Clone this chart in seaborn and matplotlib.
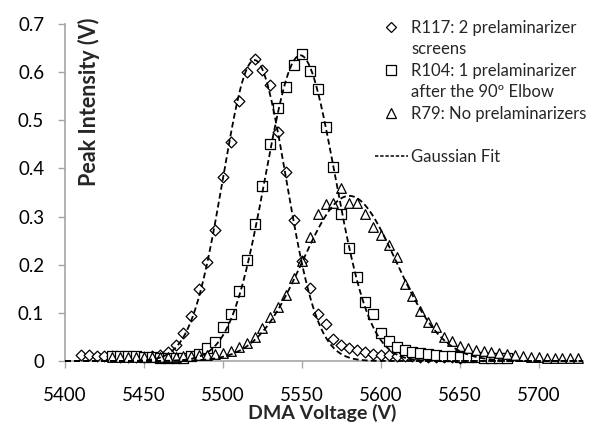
import numpy as np
import pandas as pd
import seaborn as sns
import matplotlib
matplotlib.use("Agg")
import matplotlib.pyplot as plt
from matplotlib.lines import Line2D

# ---------------- data ----------------
r117_v = list(range(5410, 5651, 5))
r117_i = [0.012, 0.012, 0.011, 0.010, 0.010, 0.009, 0.009, 0.009, 0.009, 0.010,
          0.013, 0.019, 0.034, 0.059, 0.094, 0.149, 0.206, 0.273, 0.383, 0.455,
          0.541, 0.601, 0.627, 0.605, 0.573, 0.476, 0.393, 0.293, 0.208, 0.152,
          0.098, 0.077, 0.046, 0.033, 0.027, 0.022, 0.018, 0.015, 0.013, 0.012,
          0.011, 0.010, 0.010, 0.009, 0.009, 0.008, 0.008, 0.008, 0.007]

r104_v = list(range(5430, 5681, 5))
r104_i = [0.011, 0.011, 0.010, 0.010, 0.009, 0.008, 0.007, 0.006, 0.006, 0.007,
          0.010, 0.015, 0.027, 0.040, 0.070, 0.098, 0.146, 0.210, 0.284, 0.364,
          0.451, 0.525, 0.570, 0.615, 0.637, 0.602, 0.565, 0.487, 0.402, 0.305,
          0.234, 0.175, 0.123, 0.097, 0.058, 0.042, 0.029, 0.022, 0.018, 0.016,
          0.014, 0.012, 0.011, 0.010, 0.009, 0.008, 0.008, 0.007, 0.007, 0.006,
          0.006]

r79_v = list(range(5430, 5726, 5))
r79_i = [0.009, 0.009, 0.009, 0.009, 0.009, 0.009, 0.009, 0.009, 0.009, 0.010,
         0.011, 0.012, 0.013, 0.015, 0.017, 0.020, 0.030, 0.037, 0.049, 0.069,
         0.092, 0.113, 0.137, 0.173, 0.208, 0.257, 0.306, 0.327, 0.328, 0.359,
         0.328, 0.328, 0.305, 0.279, 0.262, 0.241, 0.217, 0.160, 0.134, 0.104,
         0.080, 0.070, 0.050, 0.042, 0.032, 0.026, 0.023, 0.020, 0.018, 0.016,
         0.014, 0.012, 0.010, 0.009, 0.008, 0.007, 0.007, 0.006, 0.006, 0.006]

# Gaussian fit parameters (amplitude, centre, sigma)
fit_r117 = (0.625, 5520.0, 20.0)
fit_r104 = (0.635, 5549.0, 22.0)
fit_r79 = (0.343, 5580.0, 29.5)
fit_range = (5400, 5728)

labels = ["R117: 2 prelaminarizer", "screens",
          "R104: 1 prelaminarizer", "after the 90º Elbow",
          "R79: No prelaminarizers", "", "Gaussian Fit"]

x_ticks = [5400, 5450, 5500, 5550, 5600, 5650, 5700]
y_ticks = [0, 0.1, 0.2, 0.3, 0.4, 0.5, 0.6, 0.7]

# ---------------- plotting ----------------
sns.set_style("white")
plt.rcParams['font.family'] = ['Lato', 'DejaVu Sans']

fig = plt.figure(figsize=(5.94, 4.23), dpi=100)
ax = fig.add_axes([65/594, 1-361/423, (583-65)/594, (361-24)/423])

gray = "#a6a6a6"
series = [(r117_v, r117_i, "D", 30), (r104_v, r104_i, "s", 42), (r79_v, r79_i, "^", 48)]
for v, i, m, s in series:
    df = pd.DataFrame({"v": v, "i": i})
    sns.scatterplot(data=df, x="v", y="i", marker=m, s=s, facecolor="white",
                    edgecolor="black", linewidth=0.9, ax=ax, clip_on=False, zorder=3)

xf = np.linspace(fit_range[0], fit_range[1], 600)
for a, mu, sg in (fit_r117, fit_r104, fit_r79):
    dff = pd.DataFrame({"v": xf, "i": a*np.exp(-(xf-mu)**2/(2*sg**2))})
    sns.lineplot(data=dff, x="v", y="i", color="black", lw=1.3, ax=ax,
                 dashes=False, linestyle=(0, (3.2, 1.8)), zorder=4, clip_on=False)

ax.set_xlim(5400, 5728)
ax.set_ylim(0, 0.7)
ax.set_xticks(x_ticks)
ax.set_yticks(y_ticks)
ax.set_xticklabels([str(t) for t in x_ticks])
ax.set_yticklabels(["0" if t == 0 else f"{t:.1f}" for t in y_ticks])
ax.tick_params(axis="both", labelsize=13.5, colors=gray, labelcolor="black",
               length=5, width=1, direction="out", bottom=True, left=True)
ax.tick_params(axis="x", pad=14)
ax.tick_params(axis="y", pad=10)
for sp in ("top", "right"):
    ax.spines[sp].set_visible(False)
for sp in ("left", "bottom"):
    ax.spines[sp].set_color(gray)
    ax.spines[sp].set_linewidth(1.2)

ax.set_xlabel("DMA Voltage (V)", fontsize=14, fontweight="bold", va="top")
ax.set_ylabel("Peak Intensity (V)", fontsize=15.5, fontweight="bold", va="center")
ax.xaxis.set_label_coords(0.497, -0.128)
ax.yaxis.set_label_coords(0.047, 0.768)

blank = Line2D([], [], linestyle="none", marker=None)
handles = [
    Line2D([], [], linestyle="none", marker="D", markersize=5, mfc="white", mec="black", mew=0.9),
    blank,
    Line2D([], [], linestyle="none", marker="s", markersize=6.5, mfc="white", mec="black", mew=0.9),
    blank,
    Line2D([], [], linestyle="none", marker="^", markersize=7, mfc="white", mec="black", mew=0.9),
    blank,
    Line2D([], [], color="black", lw=1.1, linestyle=(0, (2.2, 1.2))),
]
leg = ax.legend(handles, labels, loc="upper left", bbox_to_anchor=(0.585, 1.032),
                frameon=False, fontsize=12, handlelength=2.0, handletextpad=0.2,
                labelspacing=0.33, borderaxespad=0)

fig.savefig("out.png", dpi=100)
